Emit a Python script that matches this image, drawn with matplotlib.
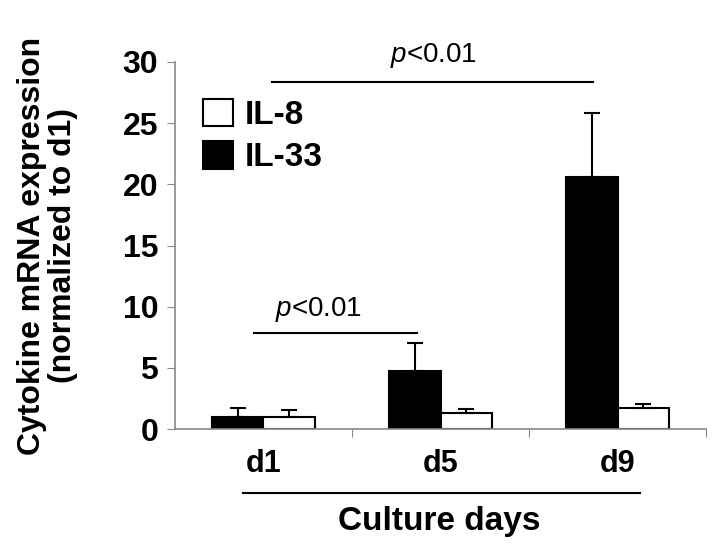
import numpy as np
import matplotlib
matplotlib.use("Agg")
import matplotlib.pyplot as plt

plt.rcParams['font.family'] = ['Liberation Sans', 'DejaVu Sans']
plt.rcParams['mathtext.fontset'] = 'custom'
plt.rcParams['mathtext.it'] = 'Liberation Sans:italic'
plt.rcParams['mathtext.rm'] = 'Liberation Sans'

days = ["d1", "d5", "d9"]
il33 = [1.0, 4.75, 20.6]
il33_err = [0.75, 2.25, 5.2]
il8 = [1.0, 1.3, 1.7]
il8_err = [0.55, 0.35, 0.35]

x = np.arange(len(days))
w = 0.29

fig = plt.figure(figsize=(7.14, 5.48), dpi=100)
ax = fig.add_axes([0.245, 0.217, 0.744, 0.670])

ax.bar(x - w / 2, il33, w, color='black', edgecolor='black', linewidth=1.5, label='IL-33', zorder=2)
ax.bar(x + w / 2, il8, w, color='white', edgecolor='black', linewidth=1.5, label='IL-8', zorder=2)
ax.errorbar(x - w / 2, il33, yerr=[np.zeros(3), il33_err], fmt='none', ecolor='black',
            elinewidth=1.5, capsize=6, capthick=1.5, zorder=3)
ax.errorbar(x + w / 2, il8, yerr=[np.zeros(3), il8_err], fmt='none', ecolor='black',
            elinewidth=1.5, capsize=6, capthick=1.5, zorder=3)

ax.set_xlim(-0.5, 2.5)
ax.set_ylim(0, 30)
ax.set_yticks(range(0, 31, 5))
ax.set_xticks([0.5, 1.5, 2.5], minor=False)
ax.set_xticklabels([])
ax.set_xticks(x, minor=True)
ax.set_xticklabels(days, minor=True, fontsize=22, fontweight='bold')
ax.tick_params(axis='x', which='minor', length=0, pad=14)
ax.tick_params(axis='x', which='major', length=6, color='#888888', direction='out')
ax.tick_params(axis='y', length=6, color='#888888', labelsize=23, pad=6)
for lab in ax.get_yticklabels():
    lab.set_fontweight('bold')

for s in ['top', 'right']:
    ax.spines[s].set_visible(False)
for s in ['left', 'bottom']:
    ax.spines[s].set_color('#888888')
    ax.spines[s].set_linewidth(1.2)

ax.set_ylabel("Cytokine mRNA expression\n(normalized to d1)", fontsize=23,
              fontweight='bold', labelpad=32, linespacing=1.05)

# significance bars
ax.plot([0.048, 1.86], [28.4, 28.4], color='black', lw=1.5, clip_on=False)
ax.text(0.963, 30.0, r"$\it{p}$<0.01", ha='center', va='baseline', fontsize=20)
ax.plot([-0.054, 0.867], [7.85, 7.85], color='black', lw=1.5, clip_on=False)
ax.text(0.31, 9.2, r"$\it{p}$<0.01", ha='center', va='baseline', fontsize=20)

# culture days bracket
ax.plot([-0.116, 2.127], [-0.174, -0.174], color='black', lw=1.5, clip_on=False,
        transform=ax.get_xaxis_transform())
ax.text(0.99, -0.253, "Culture days", ha='center', va='center', fontsize=24,
        fontweight='bold', transform=ax.get_xaxis_transform())

handles, labels = ax.get_legend_handles_labels()
ax.legend(handles[::-1], labels[::-1], loc='upper left', bbox_to_anchor=(0.053, 0.90),
          frameon=False, prop={'size': 24, 'weight': 'bold'}, handlelength=0.9,
          handleheight=0.9, handletextpad=0.35, labelspacing=0.3, borderaxespad=0,
          borderpad=0)

fig.savefig("out.png", dpi=100)
